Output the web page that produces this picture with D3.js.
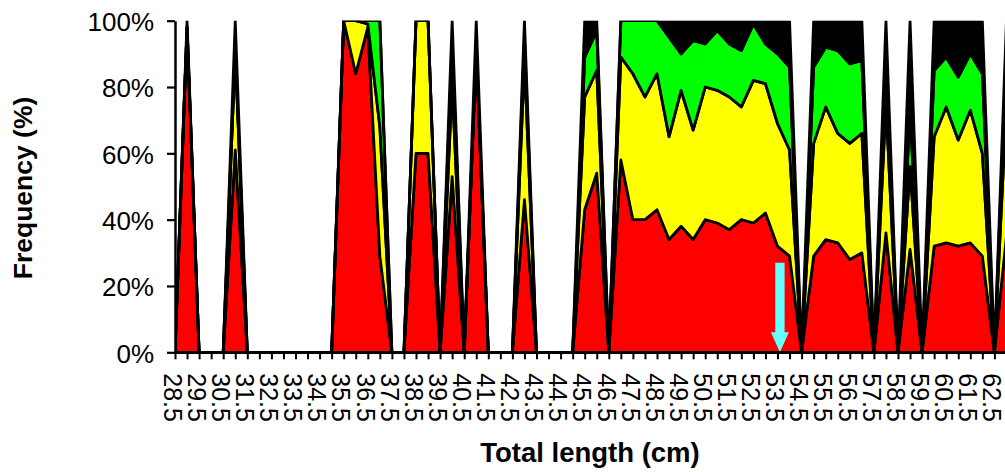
<!DOCTYPE html>
<html>
<head>
<meta charset="utf-8">
<script src="https://cdn.jsdelivr.net/npm/d3@7"></script>
<style>
  body { margin: 0; background: #fff; }
  svg { display: block; font-family: "Liberation Sans", Arial, sans-serif; }
</style>
</head>
<body>
<div id="chart"></div>
<script>
// length classes (cm), one every 0.5 cm, labels shown every 1 cm
const lengths = [28.5, 29, 29.5, 30, 30.5, 31, 31.5, 32, 32.5, 33, 33.5, 34, 34.5, 35,
  35.5, 36, 36.5, 37, 37.5, 38, 38.5, 39, 39.5, 40, 40.5, 41, 41.5, 42, 42.5, 43,
  43.5, 44, 44.5, 45, 45.5, 46, 46.5, 47, 47.5, 48, 48.5, 49, 49.5, 50, 50.5, 51,
  51.5, 52, 52.5, 53, 53.5, 54, 54.5, 55, 55.5, 56, 56.5, 57, 57.5, 58, 58.5, 59,
  59.5, 60, 60.5, 61, 61.5, 62, 62.5, 63];

// share of each group per length class (%)
const red    = [0, 98, 0, 0, 0, 61, 0, 0, 0, 0, 0, 0, 0, 0, 100, 84, 98, 29, 0, 0, 60, 60, 0, 53, 0, 91, 0, 0, 0, 46, 0, 0, 0, 0, 43, 54, 0, 58, 40, 40, 43, 34, 38, 34, 40, 39, 37, 40, 39, 42, 32, 29, 0, 29, 34, 33, 28, 30, 0, 36, 0, 31, 0, 32, 33, 32, 33, 29, 0, 35];
const yellow = [0, 0, 0, 0, 0, 30, 0, 0, 0, 0, 0, 0, 0, 0, 0, 16, 1, 39, 0, 0, 40, 40, 0, 28, 0, 0, 0, 0, 0, 42, 0, 0, 0, 0, 34, 31, 0, 31, 44, 37, 41, 31, 41, 33, 40, 40, 40, 34, 43, 39, 37, 32, 0, 34, 40, 33, 35, 36, 0, 39, 0, 25, 0, 33, 41, 32, 40, 31, 0, 40];
const green  = [0, 0, 0, 0, 0, 0, 0, 0, 0, 0, 0, 0, 0, 0, 0, 0, 1, 32, 0, 0, 0, 0, 0, 12, 0, 0, 0, 0, 0, 7, 0, 0, 0, 0, 12, 12, 0, 11, 16, 23, 16, 30, 11, 27, 13, 18, 16, 17, 17, 12, 21, 25, 0, 23, 18, 25, 24, 22, 0, 13, 0, 17, 0, 20, 15, 19, 17, 24, 0, 15];
const black  = [0, 2, 0, 0, 0, 9, 0, 0, 0, 0, 0, 0, 0, 0, 0, 0, 0, 0, 0, 0, 0, 0, 0, 7, 0, 9, 0, 0, 0, 5, 0, 0, 0, 0, 11, 3, 0, 0, 0, 0, 0, 5, 10, 6, 7, 3, 7, 9, 1, 7, 10, 14, 0, 14, 8, 9, 13, 12, 0, 12, 0, 27, 0, 15, 11, 17, 10, 16, 0, 10];

const seriesNames = ["red", "yellow", "green", "black"];
const seriesColors = ["#ff0000", "#ffff00", "#00ff00", "#000000"];
const yTicks = [0, 0.2, 0.4, 0.6, 0.8, 1];

// arrow marking a length on the axis
const arrowAt = 53.6, arrowTop = 0.27;

const width = 1005, height = 472;
const plotLeft = 175, plotTop = 20.7, plotBottom = 352.3, step = 12.05;

const rows = lengths.map((l, i) => ({
  len: l, red: red[i], yellow: yellow[i], green: green[i], black: black[i]
}));

const stack = d3.stack().keys(seriesNames).offset(d3.stackOffsetExpand);
const stacked = stack(rows);

const x = d3.scalePoint()
  .domain(lengths)
  .range([plotLeft, plotLeft + step * (lengths.length - 1)]);

const y = d3.scaleLinear().domain([0, 1]).range([plotBottom, plotTop]);

const svg = d3.select("#chart").append("svg")
  .attr("width", width).attr("height", height);

svg.append("clipPath").attr("id", "plot")
  .append("rect")
  .attr("x", plotLeft).attr("y", plotTop)
  .attr("width", width - plotLeft).attr("height", plotBottom - plotTop);

const area = d3.area()
  .x(d => x(d.data.len))
  .y0(d => y(d[0]))
  .y1(d => y(d[1]));

svg.append("g").attr("clip-path", "url(#plot)")
  .selectAll("path")
  .data(stacked)
  .join("path")
  .attr("d", area)
  .attr("fill", (d, i) => seriesColors[i])
  .attr("stroke", "#000")
  .attr("stroke-width", 2.8)
  .attr("stroke-linejoin", "round");

// cyan arrow
const ax = x(53.5) + (arrowAt - 53.5) / 0.5 * step;
const ay0 = y(arrowTop), ay1 = y(0);
const headH = 20, shaftW = 4.7, headW = 9;
svg.append("path")
  .attr("d", `M${ax - shaftW},${ay0} L${ax + shaftW},${ay0} L${ax + shaftW},${ay1 - headH}` +
    ` L${ax + headW},${ay1 - headH} L${ax},${ay1} L${ax - headW},${ay1 - headH}` +
    ` L${ax - shaftW},${ay1 - headH} Z`)
  .attr("fill", "#66ffff");

// y axis
const yAxis = svg.append("g")
  .attr("transform", `translate(${plotLeft},0)`)
  .call(d3.axisLeft(y).tickValues(yTicks).tickFormat(d3.format(".0%"))
    .tickSize(8).tickSizeOuter(0).tickPadding(13));
yAxis.select(".domain").attr("stroke-width", 2.5);
yAxis.selectAll(".tick line").attr("stroke-width", 2.2);
yAxis.selectAll("text")
  .attr("font-size", 26).attr("dy", "0.38em")
  .attr("font-family", "Liberation Sans, Arial, sans-serif");

// x axis
const xAxis = svg.append("g")
  .attr("transform", `translate(0,${plotBottom})`)
  .call(d3.axisBottom(x).tickValues(lengths)
    .tickFormat((d, i) => i % 2 === 0 && d <= 62.5 ? d3.format(".1f")(d) : "")
    .tickSize(7).tickSizeOuter(0));
xAxis.select(".domain").attr("stroke-width", 2.5);
xAxis.selectAll(".tick line").attr("stroke-width", 2);
xAxis.selectAll("text")
  .attr("font-size", 25)
  .attr("font-family", "Liberation Sans, Arial, sans-serif")
  .attr("transform", "rotate(90)")
  .attr("x", 21).attr("y", 0).attr("dy", "0.47em")
  .attr("text-anchor", "start");

// titles
svg.append("text")
  .attr("transform", "translate(32,188) rotate(-90)")
  .attr("text-anchor", "middle")
  .attr("font-size", 26.5).attr("font-weight", "bold")
  .text("Frequency (%)");

svg.append("text")
  .attr("x", 590).attr("y", 462)
  .attr("text-anchor", "middle")
  .attr("font-size", 27.5).attr("font-weight", "bold")
  .text("Total length (cm)");
</script>
</body>
</html>
